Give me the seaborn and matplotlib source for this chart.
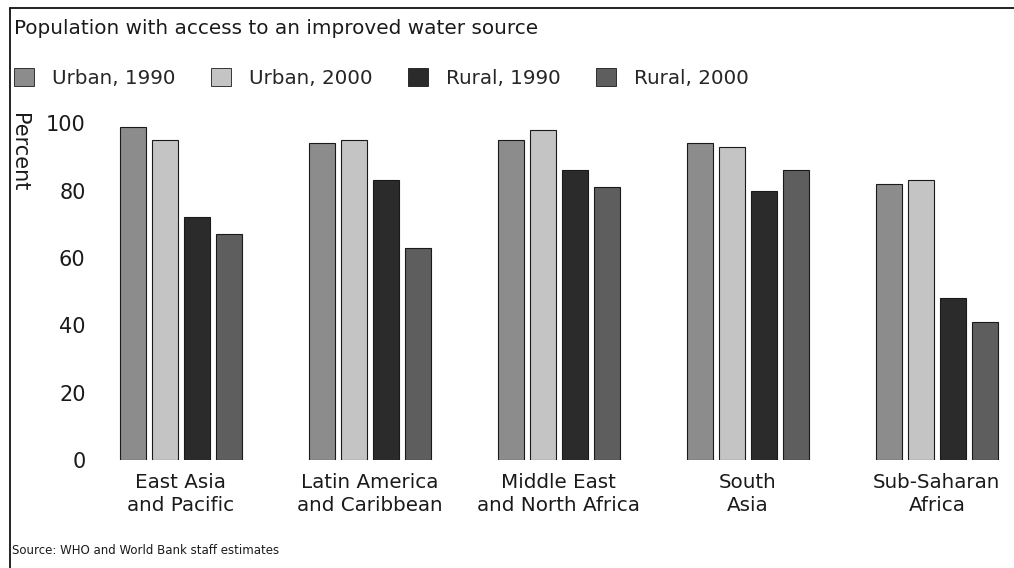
import matplotlib
matplotlib.use("Agg")
import matplotlib.pyplot as plt
import seaborn as sns
import pandas as pd
from matplotlib.patches import Patch
from matplotlib.lines import Line2D

regions = ["East Asia\nand Pacific", "Latin America\nand Caribbean",
           "Middle East\nand North Africa", "South\nAsia", "Sub-Saharan\nAfrica"]
series = ["Urban, 1990", "Urban, 2000", "Rural, 1990", "Rural, 2000"]
urban_1990 = [99, 94, 95, 94, 82]
urban_2000 = [95, 95, 98, 93, 83]
rural_1990 = [72, 83, 86, 80, 48]
rural_2000 = [67, 63, 81, 86, 41]
yticks = [0, 20, 40, 60, 80, 100]

colors = {"Urban, 1990": "#8c8c8c", "Urban, 2000": "#c4c4c4",
          "Rural, 1990": "#2b2b2b", "Rural, 2000": "#5e5e5e"}

rows = []
for s, vals in zip(series, [urban_1990, urban_2000, rural_1990, rural_2000]):
    for r, v in zip(regions, vals):
        rows.append({"region": r, "series": s, "value": v})
df = pd.DataFrame(rows)

sns.set_theme(style="white")
plt.rcParams["font.family"] = ["DejaVu Sans"]

W, H = 1014, 568
fig = plt.figure(figsize=(W / 100, H / 100), dpi=100)
ax = fig.add_axes([105 / W, (H - 460) / H, (1005 - 105) / W, (460 - 110) / H])

sns.barplot(data=df, x="region", y="value", hue="series", order=regions,
            hue_order=series, palette=colors, width=0.676, gap=0.19,
            edgecolor="#1a1a1a", linewidth=0.8, legend=False, ax=ax,
            errorbar=None)

ax.set_xlim(-0.40, 4.36)
ax.set_ylim(0, 103.9)
ax.set_yticks(yticks)
ax.set_yticklabels([str(t) for t in yticks], fontsize=15, color="#1a1a1a")
ax.tick_params(axis="y", length=0, pad=14)
ax.tick_params(axis="x", length=0, pad=9)
for lbl in ax.get_xticklabels():
    lbl.set_fontsize(14.3)
    lbl.set_color("#1a1a1a")
    lbl.set_linespacing(1.3)
ax.set_xlabel("")
ax.set_ylabel("")
for sp in ax.spines.values():
    sp.set_visible(False)

fig.text(14 / W, 1 - 28 / H, "Population with access to an improved water source",
         fontsize=14.4, va="center", ha="left", color="#1a1a1a")
fig.text(19 / W, 1 - 152 / H, "Percent", rotation=270, fontsize=15,
         va="center", ha="center", color="#1a1a1a")
fig.text(12 / W, 1 - 550 / H, "Source: WHO and World Bank staff estimates",
         fontsize=8.5, va="center", ha="left", color="#1a1a1a")

handles = [Patch(facecolor=colors[s], edgecolor="#1a1a1a", linewidth=0.6) for s in series]
fig.legend(handles, series, loc="center left", bbox_to_anchor=(6 / W, 1 - 78 / H),
           ncol=4, frameon=False, fontsize=14.3, handlelength=1.0, handleheight=1.0,
           handletextpad=0.9, columnspacing=1.8, borderaxespad=0)

fig.add_artist(Line2D([10 / W, 10 / W], [0, 1 - 8 / H], transform=fig.transFigure,
                      color="#111111", lw=1.3))
fig.add_artist(Line2D([10 / W, 1], [1 - 8 / H, 1 - 8 / H], transform=fig.transFigure,
                      color="#111111", lw=1.3))

fig.savefig("out.png", dpi=100)
